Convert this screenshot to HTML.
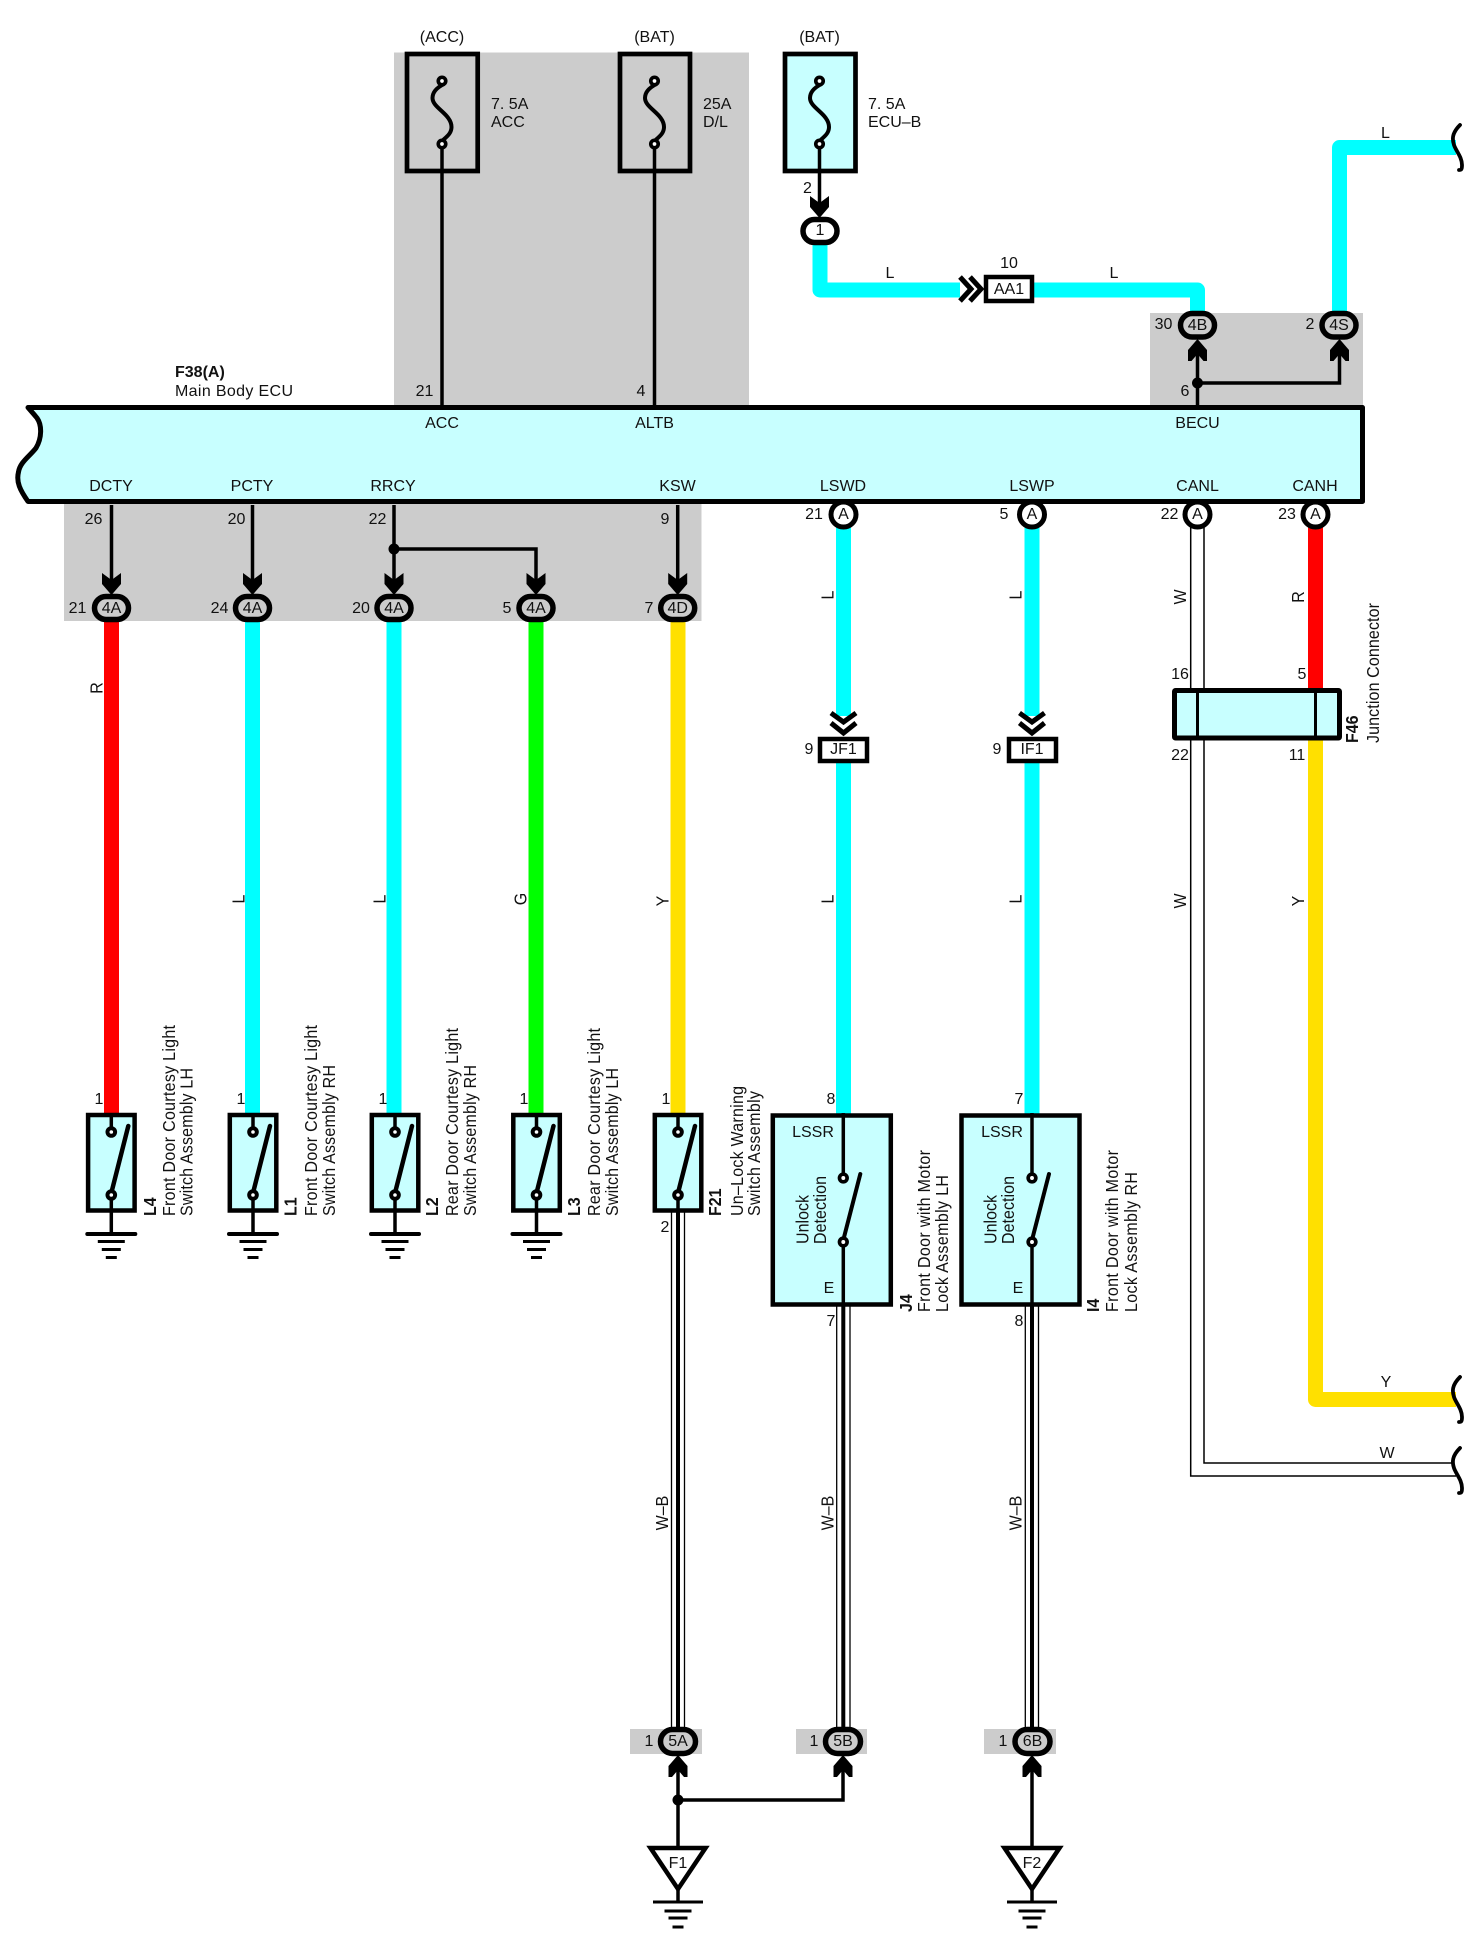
<!DOCTYPE html>
<html>
<head>
<meta charset="utf-8">
<title>Wiring diagram</title>
<style>
html,body{margin:0;padding:0;background:#fff;}
svg{display:block;}
text{font-family:"Liberation Sans",sans-serif;font-size:16px;fill:#111;}
.m{text-anchor:middle;}
.b{font-weight:bold;}
.e{text-anchor:end;}
</style>
</head>
<body>
<svg width="1476" height="1950" viewBox="0 0 1476 1950" xmlns="http://www.w3.org/2000/svg">
<defs>
  <path id="ad" d="M-9.500 0L0 7L9.500 0V11L0 22L-9.500 11Z" fill="#000"/>
  <path id="au" d="M-9.500 20L-6 20L0 13L6 20L9.500 20V9L0 -2L-9.500 9Z" fill="#000"/>
  <g id="fuse" fill="none" stroke="#000">
    <path d="M2 3C-6 7 -9.500 12 -9.500 17C-9.500 27 9.500 33 9.500 46C9.500 53 4 56 -1 61" stroke-width="4"/>
    <circle cx="0" cy="0" r="3.700" fill="#fff" stroke-width="3.700"/>
    <circle cx="0" cy="63" r="3.700" fill="#fff" stroke-width="3.700"/>
  </g>
  <g id="sw">
    <rect x="-23.200" y="1115" width="46.500" height="95.500" fill="#c8ffff" stroke="#000" stroke-width="4.500"/>
    <path d="M0 1113V1128M0 1198V1234" stroke="#000" stroke-width="3.500" fill="none"/>
    <path d="M0 1193L17 1126" stroke="#000" stroke-width="4.500" stroke-linecap="round" fill="none"/>
    <circle cx="0" cy="1132" r="3.800" fill="#fff" stroke="#000" stroke-width="4"/>
    <circle cx="0" cy="1195" r="3.800" fill="#fff" stroke="#000" stroke-width="4"/>
    <path d="M-24 1234H24" stroke="#000" stroke-width="4" stroke-linecap="round"/>
    <path d="M-13.500 1241.500H13.500M-9.500 1249.500H9.500M-5.500 1257.500H5.500" stroke="#000" stroke-width="3"/>
  </g>
  <g id="lk">
    <rect x="-70.500" y="1115.500" width="118" height="189" fill="#c8ffff" stroke="#000" stroke-width="4.500"/>
    <path d="M0 1113V1178M0 1242V1310" stroke="#000" stroke-width="3.500" fill="none"/>
    <path d="M0 1240L17 1174" stroke="#000" stroke-width="4" stroke-linecap="round" fill="none"/>
    <circle cx="0" cy="1178" r="3.800" fill="#fff" stroke="#000" stroke-width="3.700"/>
    <circle cx="0" cy="1242" r="3.800" fill="#fff" stroke="#000" stroke-width="3.700"/>
  </g>
  <path id="brk" d="M6 0C-2 8 -2 14 0 20C2 26 8 32 8 40C8 45 7 45 5 45" fill="none" stroke="#000" stroke-width="3.800" stroke-linecap="round"/>
  <g id="gnd">
    <path d="M-25 0H25" stroke="#000" stroke-width="3"/>
    <path d="M-13.500 9H13.500M-9.500 16H9.500M-5.500 25H5.500" stroke="#000" stroke-width="3"/>
  </g>
</defs>

<!-- gray panels -->
<g fill="#cccccc">
  <rect x="394" y="52.500" width="355" height="353"/>
  <rect x="1150" y="313" width="213" height="92"/>
  <rect x="64" y="503" width="637.500" height="118"/>
  <rect x="630" y="1729" width="72" height="25"/>
  <rect x="796" y="1729" width="71" height="25"/>
  <rect x="984" y="1729" width="72" height="25"/>
</g>

<!-- coloured wires -->
<g fill="none" stroke="#00ffff" stroke-width="15" stroke-linejoin="round">
  <path d="M820 240V290H960"/>
  <path d="M1030 290H1197.500V316"/>
  <path d="M1339.500 316V147.500H1456"/>
  <path d="M252.500 620V1114"/>
  <path d="M394 620V1114"/>
  <path d="M843.500 525V716"/>
  <path d="M843.500 760V1114"/>
  <path d="M1032 525V716"/>
  <path d="M1032 760V1114"/>
</g>
<path d="M111.500 620V1114" stroke="#ff0000" stroke-width="15"/>
<path d="M1315.500 525V690" stroke="#ff0000" stroke-width="15"/>
<path d="M536 620V1114" stroke="#00ff00" stroke-width="15"/>
<path d="M678 620V1114" stroke="#ffe000" stroke-width="15"/>
<path d="M1315.500 738V1399.500H1456" stroke="#ffe000" stroke-width="15" fill="none" stroke-linejoin="round"/>

<!-- thin W wire -->
<path d="M1190.700 525V1476H1456M1204 525V1463H1453" fill="none" stroke="#000" stroke-width="1.500"/>

<!-- W-B shielded wires -->
<g fill="none" stroke="#000">
  <path d="M671.500 1210V1730M684.500 1210V1730M836.700 1305V1730M850 1305V1730M1025.300 1305V1730M1038.500 1305V1730" stroke-width="1.300"/>
  <path d="M678 1210V1730M843.300 1305V1730M1032 1305V1730" stroke-width="4"/>
</g>

<!-- black lines -->
<g fill="none" stroke="#000" stroke-width="3.500">
  <path d="M442 144V406M654.500 144V406"/>
  <path d="M1197.500 405V345M1197.500 383H1339.500V345"/>
  <path d="M111.500 505V580M252.500 505V580M394 505V580M394 549H536V580M677.700 505V580"/>
  <path d="M678 1760V1848M678 1800H843V1760M1032 1760V1848"/>
</g>
<circle cx="1197.500" cy="383" r="5.500"/>
<circle cx="394" cy="549" r="5.500"/>
<circle cx="678" cy="1800" r="5.500"/>

<!-- fuses -->
<rect x="407" y="54" width="70.700" height="117" fill="none" stroke="#000" stroke-width="4.700"/>
<rect x="620" y="54" width="70" height="117" fill="none" stroke="#000" stroke-width="4.700"/>
<rect x="785" y="54" width="70.500" height="117" fill="#c8ffff" stroke="#000" stroke-width="4.700"/>
<path d="M819.500 144V205" stroke="#000" stroke-width="3.500"/>
<use href="#fuse" x="442" y="81"/>
<use href="#fuse" x="654.500" y="81"/>
<use href="#fuse" x="819.500" y="81"/>
<use href="#ad" x="819.500" y="196"/>

<!-- ECU body -->
<path d="M28 407.500H1362.500V501.500H28C20 490 16 482 18.500 472C20 462 30 456 36 448C42 438 42 425 37 418C33 413 31 411 28 407.500Z" fill="#c8ffff" stroke="#000" stroke-width="5" stroke-linejoin="round"/>

<!-- top round connectors -->
<rect x="803" y="219.500" width="34" height="23" rx="11.500" fill="#fff" stroke="#000" stroke-width="5.500"/>
<rect x="1180.500" y="313.500" width="34" height="23.500" rx="11.700" fill="#cccccc" stroke="#000" stroke-width="5.500"/>
<rect x="1322" y="313.500" width="34" height="23.500" rx="11.700" fill="#cccccc" stroke="#000" stroke-width="5.500"/>
<use href="#au" x="1197.500" y="341"/>
<use href="#au" x="1339.500" y="341"/>

<!-- AA1 -->
<rect x="986" y="277" width="46" height="24" fill="#fff" stroke="#000" stroke-width="4.500"/>
<path d="M960 277L971 289L960 301M970 277L981 289L970 301" fill="none" stroke="#000" stroke-width="5"/>

<!-- break marks -->
<use href="#brk" x="1454" y="125"/>
<use href="#brk" x="1454" y="1377"/>
<use href="#brk" x="1454" y="1448"/>

<!-- row of 4x connectors -->
<g fill="#cccccc" stroke="#000" stroke-width="5.500">
  <rect x="94.500" y="596.500" width="34" height="23" rx="11.500"/>
  <rect x="235.500" y="596.500" width="34" height="23" rx="11.500"/>
  <rect x="377" y="596.500" width="34" height="23" rx="11.500"/>
  <rect x="519" y="596.500" width="34" height="23" rx="11.500"/>
  <rect x="660.700" y="596.500" width="34" height="23" rx="11.500"/>
</g>
<use href="#ad" x="111.500" y="573"/>
<use href="#ad" x="252.500" y="573"/>
<use href="#ad" x="394" y="573"/>
<use href="#ad" x="536" y="573"/>
<use href="#ad" x="677.700" y="573"/>

<!-- A connectors -->
<g fill="#fff" stroke="#000" stroke-width="5">
  <circle cx="843.500" cy="514.500" r="12.500"/>
  <circle cx="1032" cy="514.500" r="12.500"/>
  <circle cx="1197.500" cy="514.500" r="12.500"/>
  <circle cx="1315.500" cy="514.500" r="12.500"/>
</g>

<!-- JF1/IF1 -->
<rect x="820" y="739" width="47" height="22" fill="#fff" stroke="#000" stroke-width="4.500"/>
<rect x="1009" y="739" width="47" height="22" fill="#fff" stroke="#000" stroke-width="4.500"/>
<path d="M831 713L843.500 722L856 713M831 723L843.500 733L856 723M1019.500 713L1032 722L1044.500 713M1019.500 723L1032 733L1044.500 723" fill="none" stroke="#000" stroke-width="5"/>

<!-- F46 -->
<rect x="1174.500" y="690.500" width="165" height="47.500" fill="#c8ffff" stroke="#000" stroke-width="5" rx="1"/>
<path d="M1197.500 690V738M1315.500 690V738" stroke="#000" stroke-width="3"/>

<!-- switches -->
<use href="#sw" x="111.300"/>
<use href="#sw" x="253"/>
<use href="#sw" x="395"/>
<use href="#sw" x="536.500"/>
<rect x="654.800" y="1115" width="46.500" height="95.500" fill="#c8ffff" stroke="#000" stroke-width="4.500"/>
<path d="M678 1113V1128M678 1198V1226" stroke="#000" stroke-width="3.500" fill="none"/>
<path d="M678 1193L695 1126" stroke="#000" stroke-width="4.500" stroke-linecap="round"/>
<circle cx="678" cy="1132" r="3.800" fill="#fff" stroke="#000" stroke-width="4"/>
<circle cx="678" cy="1195" r="3.800" fill="#fff" stroke="#000" stroke-width="4"/>

<!-- lock assemblies -->
<use href="#lk" x="843.300"/>
<use href="#lk" x="1032"/>

<!-- ground connectors at bottom -->
<g fill="#cccccc" stroke="#000" stroke-width="5.500">
  <rect x="660.500" y="1729.500" width="35" height="24" rx="12"/>
  <rect x="825.500" y="1729.500" width="35" height="24" rx="12"/>
  <rect x="1015" y="1729.500" width="35" height="24" rx="12"/>
</g>
<use href="#au" x="678" y="1757"/>
<use href="#au" x="843" y="1757"/>
<use href="#au" x="1032" y="1757"/>

<!-- triangles & grounds -->
<path d="M650.500 1848H705.500L678 1889Z" fill="#fff" stroke="#000" stroke-width="4.500"/>
<path d="M1004.500 1848H1059.500L1032 1889Z" fill="#fff" stroke="#000" stroke-width="4.500"/>
<path d="M678 1889V1902M1032 1889V1902" stroke="#000" stroke-width="3.500"/>
<use href="#gnd" x="678" y="1902"/>
<use href="#gnd" x="1032" y="1902"/>

<!-- horizontal labels -->
<g transform="translate(0,-1)">
<text class="m" x="442" y="43">(ACC)</text>
<text class="m" x="654.500" y="43">(BAT)</text>
<text class="m" x="819.500" y="43">(BAT)</text>
<text x="491" y="110">7. 5A</text>
<text x="491" y="128">ACC</text>
<text x="703" y="110">25A</text>
<text x="703" y="128">D/L</text>
<text x="868" y="110">7. 5A</text>
<text x="868" y="128">ECU–B</text>
<text class="m" x="424.500" y="397">21</text>
<text class="m" x="641" y="397">4</text>
<text class="m" x="807.500" y="194">2</text>
<text class="m" x="820" y="236">1</text>
<text class="m" x="890" y="279">L</text>
<text class="m" x="1114" y="279">L</text>
<text class="m" x="1009" y="269">10</text>
<text class="m" x="1009" y="295">AA1</text>
<text class="m" x="1385.500" y="139">L</text>
<text class="m" x="1163.500" y="330">30</text>
<text class="m" x="1197.500" y="331">4B</text>
<text class="m" x="1310" y="330">2</text>
<text class="m" x="1339" y="331">4S</text>
<text class="m" x="1185" y="397">6</text>
<text class="b" x="175" y="378">F38(A)</text>
<text x="175" y="397" textLength="118">Main Body ECU</text>
<text class="m" x="442" y="429">ACC</text>
<text class="m" x="654.500" y="429">ALTB</text>
<text class="m" x="1197.500" y="429">BECU</text>
<text class="m" x="111" y="492">DCTY</text>
<text class="m" x="252" y="492">PCTY</text>
<text class="m" x="393" y="492">RRCY</text>
<text class="m" x="677.500" y="492">KSW</text>
<text class="m" x="843" y="492">LSWD</text>
<text class="m" x="1032" y="492">LSWP</text>
<text class="m" x="1197.500" y="492">CANL</text>
<text class="m" x="1315" y="492">CANH</text>
<text class="m" x="93.500" y="525">26</text>
<text class="m" x="236.500" y="525">20</text>
<text class="m" x="377.500" y="525">22</text>
<text class="m" x="665" y="525">9</text>
<text class="m" x="814" y="520">21</text>
<text class="m" x="1004" y="520">5</text>
<text class="m" x="1169.500" y="520">22</text>
<text class="m" x="1287" y="520">23</text>
<text class="m" x="843.500" y="520">A</text>
<text class="m" x="1032" y="520">A</text>
<text class="m" x="1197.500" y="520">A</text>
<text class="m" x="1315.500" y="520">A</text>
<text class="m" x="77.500" y="614">21</text>
<text class="m" x="219.500" y="614">24</text>
<text class="m" x="361" y="614">20</text>
<text class="m" x="507" y="614">5</text>
<text class="m" x="649" y="614">7</text>
<text class="m" x="111.500" y="614">4A</text>
<text class="m" x="252.500" y="614">4A</text>
<text class="m" x="394" y="614">4A</text>
<text class="m" x="536" y="614">4A</text>
<text class="m" x="677.700" y="614">4D</text>
<text class="m" x="1180" y="680">16</text>
<text class="m" x="1302" y="680">5</text>
<text class="m" x="1180" y="761">22</text>
<text class="m" x="1297" y="761">11</text>
<text class="m" x="809" y="755">9</text>
<text class="m" x="843.500" y="755">JF1</text>
<text class="m" x="997" y="755">9</text>
<text class="m" x="1032" y="755">IF1</text>
<text class="m" x="99" y="1105">1</text>
<text class="m" x="241" y="1105">1</text>
<text class="m" x="383" y="1105">1</text>
<text class="m" x="524" y="1105">1</text>
<text class="m" x="666" y="1105">1</text>
<text class="m" x="831" y="1105">8</text>
<text class="m" x="1019" y="1105">7</text>
<text class="m" x="665" y="1233">2</text>
<text class="m" x="831" y="1327">7</text>
<text class="m" x="1019" y="1327">8</text>
<text class="m" x="813" y="1138">LSSR</text>
<text class="m" x="1002" y="1138">LSSR</text>
<text class="m" x="829" y="1294">E</text>
<text class="m" x="1018" y="1294">E</text>
<text class="m" x="1386" y="1388">Y</text>
<text class="m" x="1387" y="1459">W</text>
<text class="m" x="649" y="1747">1</text>
<text class="m" x="814" y="1747">1</text>
<text class="m" x="1003" y="1747">1</text>
<text class="m" x="678" y="1747">5A</text>
<text class="m" x="843" y="1747">5B</text>
<text class="m" x="1032.500" y="1747">6B</text>
<text class="m" x="678" y="1869">F1</text>
<text class="m" x="1032" y="1869">F2</text>
</g>

<!-- rotated wire labels -->
<text class="m" transform="translate(102.500,688) rotate(-90) scale(1,1.12)">R</text>
<text class="m" transform="translate(244.500,899) rotate(-90) scale(1,1.12)">L</text>
<text class="m" transform="translate(385.500,899) rotate(-90) scale(1,1.12)">L</text>
<text class="m" transform="translate(526.500,899) rotate(-90) scale(1,1.12)">G</text>
<text class="m" transform="translate(668.500,901) rotate(-90) scale(1,1.12)">Y</text>
<text class="m" transform="translate(833.500,595) rotate(-90) scale(1,1.12)">L</text>
<text class="m" transform="translate(833.500,899) rotate(-90) scale(1,1.12)">L</text>
<text class="m" transform="translate(1021.500,595) rotate(-90) scale(1,1.12)">L</text>
<text class="m" transform="translate(1021.500,899) rotate(-90) scale(1,1.12)">L</text>
<text class="m" transform="translate(1186,597) rotate(-90) scale(1,1.12)">W</text>
<text class="m" transform="translate(1186,901) rotate(-90) scale(1,1.12)">W</text>
<text class="m" transform="translate(1304,597) rotate(-90) scale(1,1.12)">R</text>
<text class="m" transform="translate(1304,901) rotate(-90) scale(1,1.12)">Y</text>
<text class="m" transform="translate(668,1513) rotate(-90) scale(1,1.12)">W–B</text>
<text class="m" transform="translate(833.500,1513) rotate(-90) scale(1,1.12)">W–B</text>
<text class="m" transform="translate(1021.500,1513) rotate(-90) scale(1,1.12)">W–B</text>

<!-- rotated component labels -->
<text class="b" transform="translate(156,1216) rotate(-90) scale(1,1.12)">L4</text>
<text transform="translate(175,1216) rotate(-90) scale(1,1.12)" textLength="191">Front Door Courtesy Light</text>
<text transform="translate(192.700,1216) rotate(-90) scale(1,1.12)" textLength="148">Switch  Assembly LH</text>
<text class="b" transform="translate(296.500,1216) rotate(-90) scale(1,1.12)">L1</text>
<text transform="translate(317,1216) rotate(-90) scale(1,1.12)" textLength="191">Front Door Courtesy Light</text>
<text transform="translate(335,1216) rotate(-90) scale(1,1.12)" textLength="151">Switch  Assembly RH</text>
<text class="b" transform="translate(438,1216) rotate(-90) scale(1,1.12)">L2</text>
<text transform="translate(458,1216) rotate(-90) scale(1,1.12)" textLength="188">Rear Door Courtesy Light</text>
<text transform="translate(476,1216) rotate(-90) scale(1,1.12)" textLength="151">Switch  Assembly RH</text>
<text class="b" transform="translate(580,1216) rotate(-90) scale(1,1.12)">L3</text>
<text transform="translate(600,1216) rotate(-90) scale(1,1.12)" textLength="188">Rear Door Courtesy Light</text>
<text transform="translate(618,1216) rotate(-90) scale(1,1.12)" textLength="148">Switch  Assembly LH</text>
<text class="b" transform="translate(721,1216) rotate(-90) scale(1,1.12)">F21</text>
<text transform="translate(743,1216) rotate(-90) scale(1,1.12)" textLength="130">Un–Lock Warning</text>
<text transform="translate(760,1216) rotate(-90) scale(1,1.12)" textLength="125">Switch  Assembly</text>
<text class="b" transform="translate(912,1312) rotate(-90) scale(1,1.12)">J4</text>
<text transform="translate(930,1312) rotate(-90) scale(1,1.12)" textLength="162">Front Door with Motor</text>
<text transform="translate(948,1312) rotate(-90) scale(1,1.12)" textLength="137">Lock Assembly LH</text>
<text class="b" transform="translate(1099,1312) rotate(-90) scale(1,1.12)">I4</text>
<text transform="translate(1118,1312) rotate(-90) scale(1,1.12)" textLength="162">Front Door with Motor</text>
<text transform="translate(1137,1312) rotate(-90) scale(1,1.12)" textLength="140">Lock Assembly RH</text>
<text transform="translate(808.500,1244) rotate(-90) scale(1,1.12)" textLength="49">Unlock</text>
<text transform="translate(826,1244) rotate(-90) scale(1,1.12)" textLength="68">Detection</text>
<text transform="translate(996.500,1244) rotate(-90) scale(1,1.12)" textLength="49">Unlock</text>
<text transform="translate(1014,1244) rotate(-90) scale(1,1.12)" textLength="68">Detection</text>
<text class="b" transform="translate(1358,743) rotate(-90) scale(1,1.12)">F46</text>
<text transform="translate(1379,743) rotate(-90) scale(1,1.12)" textLength="140">Junction  Connector</text>
</svg>
</body>
</html>
